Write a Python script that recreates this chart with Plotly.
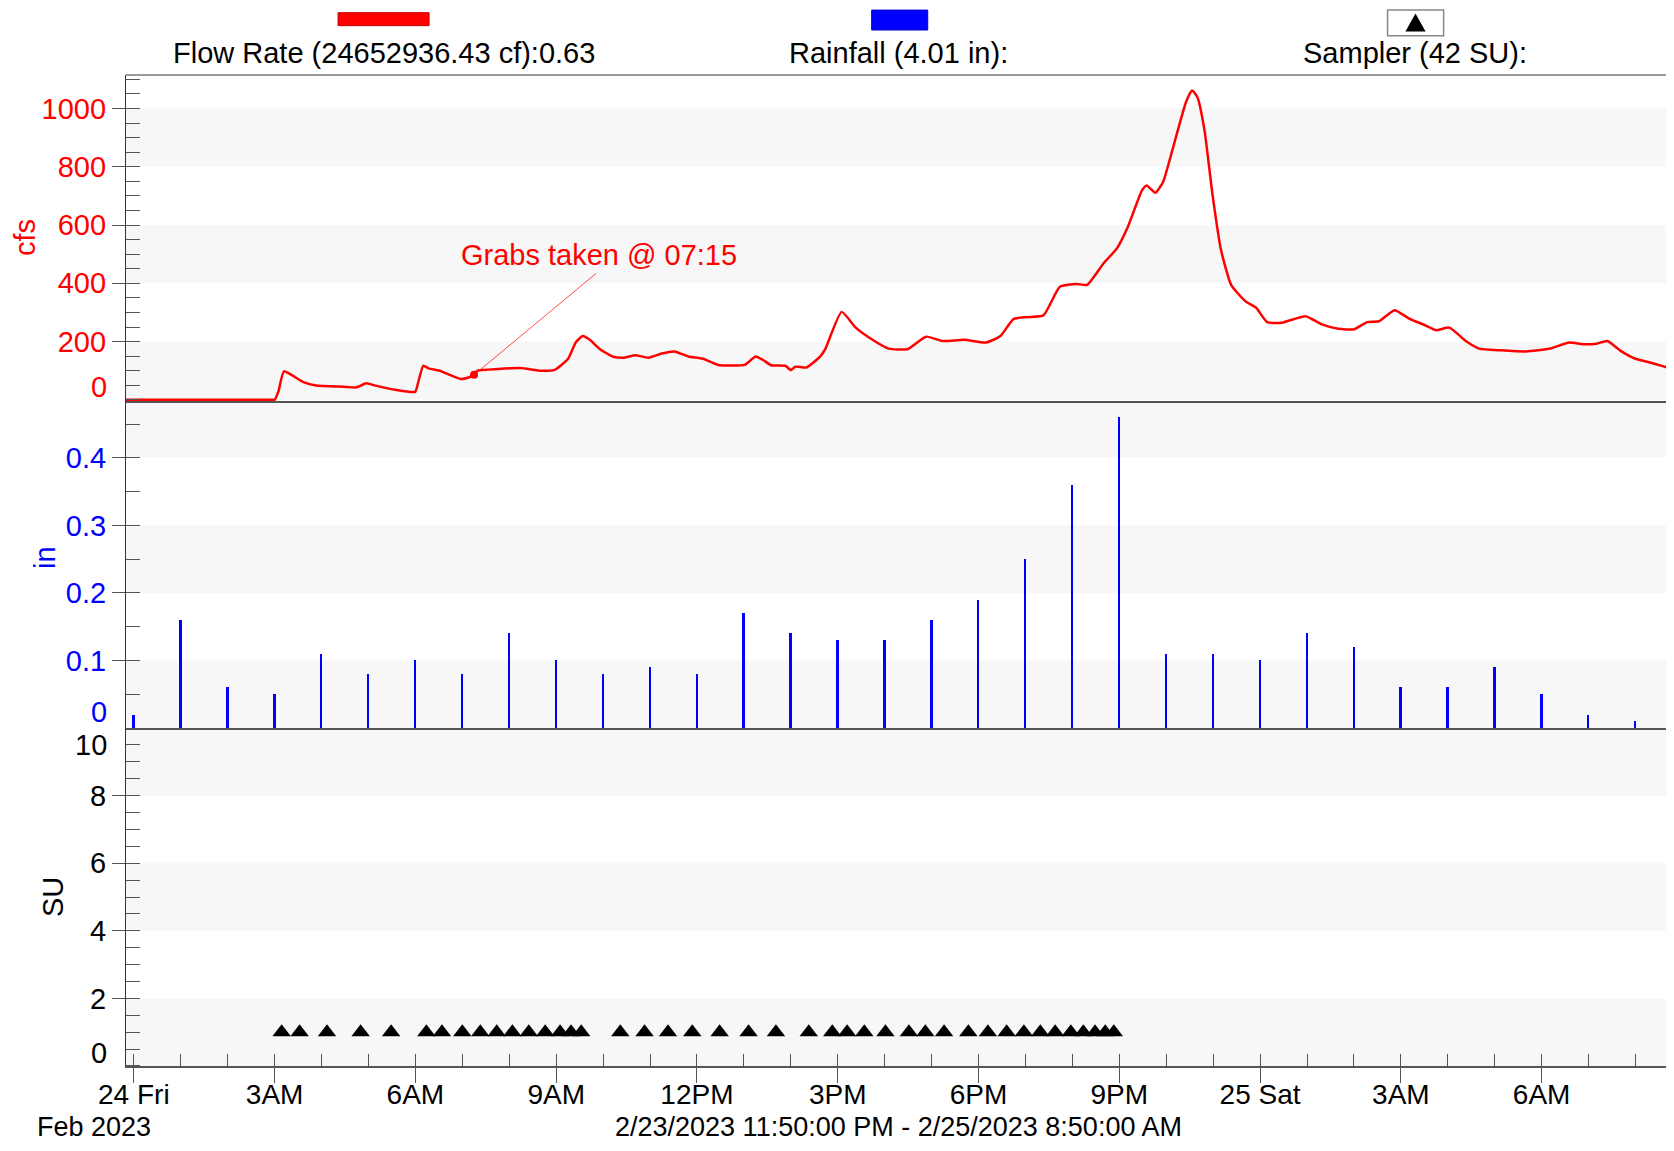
import plotly.graph_objects as go
from plotly.subplots import make_subplots

# ---------------- data ----------------
flow_times = [
    "2023-02-23 23:50", "2023-02-24 01:00", "2023-02-24 02:00", "2023-02-24 02:58",
    "2023-02-24 03:00", "2023-02-24 03:05", "2023-02-24 03:12",
    "2023-02-24 03:36", "2023-02-24 03:53", "2023-02-24 04:28", "2023-02-24 04:45",
    "2023-02-24 04:57", "2023-02-24 05:09", "2023-02-24 05:36", "2023-02-24 05:57",
    "2023-02-24 06:00", "2023-02-24 06:10", "2023-02-24 06:17", "2023-02-24 06:31",
    "2023-02-24 06:58", "2023-02-24 07:08", "2023-02-24 07:15", "2023-02-24 07:19",
    "2023-02-24 07:46", "2023-02-24 08:14", "2023-02-24 08:41", "2023-02-24 08:58",
    "2023-02-24 09:15", "2023-02-24 09:25", "2023-02-24 09:34", "2023-02-24 09:43",
    "2023-02-24 09:56", "2023-02-24 10:13", "2023-02-24 10:27", "2023-02-24 10:41",
    "2023-02-24 10:58", "2023-02-24 11:15", "2023-02-24 11:31", "2023-02-24 11:49",
    "2023-02-24 12:07", "2023-02-24 12:27", "2023-02-24 13:01", "2023-02-24 13:15",
    "2023-02-24 13:25", "2023-02-24 13:35", "2023-02-24 13:53", "2023-02-24 14:00",
    "2023-02-24 14:06", "2023-02-24 14:20", "2023-02-24 14:38", "2023-02-24 14:44",
    "2023-02-24 15:05", "2023-02-24 15:23", "2023-02-24 15:40", "2023-02-24 16:05",
    "2023-02-24 16:29", "2023-02-24 16:53", "2023-02-24 17:14", "2023-02-24 17:42",
    "2023-02-24 18:10", "2023-02-24 18:28", "2023-02-24 18:45", "2023-02-24 19:02",
    "2023-02-24 19:23", "2023-02-24 19:44", "2023-02-24 20:05", "2023-02-24 20:19",
    "2023-02-24 20:40", "2023-02-24 20:57", "2023-02-24 21:11", "2023-02-24 21:29",
    "2023-02-24 21:35", "2023-02-24 21:46", "2023-02-24 21:56", "2023-02-24 22:10",
    "2023-02-24 22:25", "2023-02-24 22:33", "2023-02-24 22:40", "2023-02-24 22:49",
    "2023-02-24 22:59", "2023-02-24 23:10", "2023-02-24 23:23", "2023-02-24 23:41",
    "2023-02-24 23:55", "2023-02-25 00:09", "2023-02-25 00:28", "2023-02-25 00:58",
    "2023-02-25 01:19", "2023-02-25 01:40", "2023-02-25 02:00", "2023-02-25 02:17",
    "2023-02-25 02:32", "2023-02-25 02:52", "2023-02-25 03:10", "2023-02-25 03:31",
    "2023-02-25 03:45", "2023-02-25 04:02", "2023-02-25 04:23", "2023-02-25 04:40",
    "2023-02-25 05:08", "2023-02-25 05:40", "2023-02-25 06:11", "2023-02-25 06:35",
    "2023-02-25 06:53", "2023-02-25 07:10", "2023-02-25 07:24", "2023-02-25 07:41",
    "2023-02-25 07:59", "2023-02-25 08:23", "2023-02-25 08:47", "2023-02-25 08:50",
]
flow_cfs = [
    0, 0, 0, 0,
    0, 30, 98,
    62, 49, 45, 43,
    57, 49, 34, 27,
    28, 117, 108, 100,
    72, 77, 86, 100,
    106, 109, 100, 103,
    140, 197, 219, 206,
    174, 148, 145, 153,
    145, 159, 166, 149,
    142, 120, 120, 149,
    136, 119, 117, 102,
    114, 111, 150, 174,
    302, 248, 214, 176,
    174, 217, 202, 206,
    197, 219, 278, 284,
    290, 388, 398, 395,
    469, 520, 594, 719,
    736, 711, 748, 878,
    1020, 1062, 1038, 924,
    708, 515, 395, 339,
    316, 267, 265, 287,
    259, 244, 242, 267,
    270, 308, 280, 256,
    239, 248, 202, 176,
    170, 166, 176, 197,
    191, 193, 202, 168,
    142, 125, 106, 104,
]

rain_times = [
    "2023-02-24 00:00", "2023-02-24 01:00", "2023-02-24 02:00", "2023-02-24 03:00",
    "2023-02-24 04:00", "2023-02-24 05:00", "2023-02-24 06:00", "2023-02-24 07:00",
    "2023-02-24 08:00", "2023-02-24 09:00", "2023-02-24 10:00", "2023-02-24 11:00",
    "2023-02-24 12:00", "2023-02-24 13:00", "2023-02-24 14:00", "2023-02-24 15:00",
    "2023-02-24 16:00", "2023-02-24 17:00", "2023-02-24 18:00", "2023-02-24 19:00",
    "2023-02-24 20:00", "2023-02-24 21:00", "2023-02-24 22:00", "2023-02-24 23:00",
    "2023-02-25 00:00", "2023-02-25 01:00", "2023-02-25 02:00", "2023-02-25 03:00",
    "2023-02-25 04:00", "2023-02-25 05:00", "2023-02-25 06:00", "2023-02-25 07:00",
    "2023-02-25 08:00",
]
rain_in = [
    0.02, 0.16, 0.06, 0.05, 0.11, 0.08, 0.10, 0.08,
    0.14, 0.10, 0.08, 0.09, 0.08, 0.17, 0.14, 0.13,
    0.13, 0.16, 0.19, 0.25, 0.36, 0.46, 0.11, 0.11,
    0.10, 0.14, 0.12, 0.06, 0.06, 0.09, 0.05, 0.02,
    0.01,
]

sampler_times = [
    "2023-02-24 03:09", "2023-02-24 03:32", "2023-02-24 04:07", "2023-02-24 04:50",
    "2023-02-24 05:29", "2023-02-24 06:14", "2023-02-24 06:34", "2023-02-24 07:00",
    "2023-02-24 07:23", "2023-02-24 07:44", "2023-02-24 08:04", "2023-02-24 08:25",
    "2023-02-24 08:46", "2023-02-24 09:05", "2023-02-24 09:19", "2023-02-24 09:32",
    "2023-02-24 10:22", "2023-02-24 10:53", "2023-02-24 11:23", "2023-02-24 11:54",
    "2023-02-24 12:29", "2023-02-24 13:06", "2023-02-24 13:41", "2023-02-24 14:23",
    "2023-02-24 14:53", "2023-02-24 15:12", "2023-02-24 15:34", "2023-02-24 16:01",
    "2023-02-24 16:31", "2023-02-24 16:52", "2023-02-24 17:16", "2023-02-24 17:47",
    "2023-02-24 18:12", "2023-02-24 18:36", "2023-02-24 18:58", "2023-02-24 19:19",
    "2023-02-24 19:38", "2023-02-24 19:58", "2023-02-24 20:14", "2023-02-24 20:29",
    "2023-02-24 20:42", "2023-02-24 20:53",
]
sampler_su = [
    1, 1, 1, 1, 1, 1, 1, 1, 1, 1, 1, 1, 1, 1, 1, 1, 1, 1, 1, 1, 1,
    1, 1, 1, 1, 1, 1, 1, 1, 1, 1, 1, 1, 1, 1, 1, 1, 1, 1, 1, 1, 1,
]

grab_time = "2023-02-24 07:15"
grab_cfs = 86
grab_label = "Grabs taken @ 07:15"

x_start = "2023-02-23 23:50"
x_end_visible = "2023-02-25 08:39"   # page edge; full record runs to 08:50
x_tick_times = [
    "2023-02-24 00:00", "2023-02-24 03:00", "2023-02-24 06:00", "2023-02-24 09:00",
    "2023-02-24 12:00", "2023-02-24 15:00", "2023-02-24 18:00", "2023-02-24 21:00",
    "2023-02-25 00:00", "2023-02-25 03:00", "2023-02-25 06:00",
]
x_tick_labels = ["24 Fri", "3AM", "6AM", "9AM", "12PM", "3PM", "6PM", "9PM",
                 "25 Sat", "3AM", "6AM"]
flow_ticks = [200, 400, 600, 800, 1000]
rain_ticks = [0.1, 0.2, 0.3, 0.4]
su_ticks = [2, 4, 6, 8]

legend_flow = "Flow Rate (24652936.43 cf):0.63"
legend_rain = "Rainfall (4.01 in):"
legend_sampler = "Sampler (42 SU):"
range_text = "2/23/2023 11:50:00 PM - 2/25/2023 8:50:00 AM"
month_text = "Feb 2023"

# ---------------- figure ----------------
FONT = "Liberation Sans, Arial, sans-serif"
FS = 29
RED = "#ff0000"
BLUE = "#0000ff"
AXC = "#555555"
BAND = "#f7f7f7"

fig = make_subplots(rows=3, cols=1, shared_xaxes=True, vertical_spacing=0,
                    row_heights=[0.329, 0.330, 0.341])

fig.add_trace(go.Scatter(x=flow_times, y=flow_cfs, mode="lines",
                         line=dict(color=RED, width=2.5, shape="spline", smoothing=0.5),
                         hoverinfo="skip"),
              row=1, col=1)
fig.add_trace(go.Scatter(x=[grab_time], y=[grab_cfs], mode="markers",
                         marker=dict(color=RED, size=8)), row=1, col=1)
fig.add_trace(go.Bar(x=rain_times, y=rain_in, width=140000,
                     marker=dict(color=BLUE, line=dict(width=0))), row=2, col=1)
fig.add_trace(go.Scatter(x=sampler_times, y=sampler_su, mode="markers",
                         marker=dict(symbol="triangle-up", size=16, color="black",
                                     line=dict(width=0))), row=3, col=1)

# background bands
for y0, y1 in [(0, 200), (400, 600), (800, 1000)]:
    fig.add_hrect(y0=y0, y1=y1, fillcolor=BAND, line_width=0, layer="below", row=1, col=1)
for y0, y1 in [(0, 0.1), (0.2, 0.3), (0.4, 0.484)]:
    fig.add_hrect(y0=y0, y1=y1, fillcolor=BAND, line_width=0, layer="below", row=2, col=1)
for y0, y1 in [(0, 2), (4, 6), (8, 10)]:
    fig.add_hrect(y0=y0, y1=y1, fillcolor=BAND, line_width=0, layer="below", row=3, col=1)

# x axes
fig.update_xaxes(type="date", range=[x_start, x_end_visible], showgrid=False, zeroline=False,
                 showline=True, linecolor=AXC, linewidth=1.5)
fig.update_xaxes(ticks="", showticklabels=False, layer="below traces", row=1, col=1)
fig.update_xaxes(ticks="", showticklabels=False, layer="below traces", row=2, col=1)
fig.update_xaxes(tickmode="array", tickvals=x_tick_times, ticktext=x_tick_labels,
                 ticks="outside", ticklen=15, tickwidth=1, tickcolor=AXC,
                 showticklabels=True, ticklabelstandoff=-12,
                 tickfont=dict(family=FONT, size=28, color="black"),
                 minor=dict(ticks="inside", ticklen=12, tickcolor=AXC,
                            tick0="2023-02-24 00:00", dtick=3600000, showgrid=False),
                 row=3, col=1)

# y axes
common_y = dict(showgrid=False, zeroline=False, showline=True, linecolor="#333333",
                linewidth=1.2, ticks="outside", ticklen=13, tickcolor=AXC,
                tickmode="array", ticklabelstandoff=0)
fig.update_yaxes(range=[-4, 1115], tickvals=flow_ticks,
                 tickfont=dict(family=FONT, size=FS, color=RED),
                 minor=dict(ticks="inside", ticklen=14, tickcolor=AXC, tick0=0, dtick=50),
                 row=1, col=1, **common_y)
fig.update_yaxes(range=[0, 0.484], tickvals=rain_ticks,
                 tickfont=dict(family=FONT, size=FS, color=BLUE),
                 minor=dict(ticks="inside", ticklen=14, tickcolor=AXC, tick0=0, dtick=0.05),
                 row=2, col=1, **common_y)
fig.update_yaxes(range=[0, 10], tickvals=su_ticks,
                 tickfont=dict(family=FONT, size=FS, color="black"),
                 minor=dict(ticks="inside", ticklen=14, tickcolor=AXC, tick0=0, dtick=0.5),
                 row=3, col=1, **common_y)

ann = []
# edge tick labels (drawn nudged inside the panels, as in the original)
for yref, yv, shift, col in [("y", 0, 13, RED), ("y2", 0, 16, BLUE),
                             ("y3", 10, -17, "black"), ("y3", 0, 13, "black")]:
    ann.append(dict(xref="paper", x=0, yref=yref, y=yv, xanchor="right", yanchor="middle",
                    xshift=-17, yshift=shift, text=str(yv), showarrow=False,
                    font=dict(family=FONT, size=FS, color=col)))
# axis titles
for xp, yp, txt, col in [(-0.0656, 0.8365, "cfs", RED), (-0.0526, 0.5136, "in", BLUE),
                         (-0.0474, 0.1705, "SU", "black")]:
    ann.append(dict(xref="paper", yref="paper", x=xp, y=yp, text=txt, textangle=-90,
                    xanchor="center", yanchor="middle", showarrow=False,
                    font=dict(family=FONT, size=FS, color=col)))
# legend texts
for xc, txt in [(0.1675, legend_flow), (0.5019, legend_rain), (0.8368, legend_sampler)]:
    ann.append(dict(xref="paper", yref="paper", x=xc, y=1.0222, text=txt, showarrow=False,
                    xanchor="center", yanchor="middle",
                    font=dict(family=FONT, size=FS, color="black")))
# bottom texts
for xp, anchor, txt in [(-0.0591, "left", month_text), (0.5019, "center", range_text)]:
    ann.append(dict(xref="paper", yref="paper", x=xp, y=-0.0616, text=txt,
                    xanchor=anchor, yanchor="middle", showarrow=False,
                    font=dict(family=FONT, size=27, color="black")))
# grab annotation
ann.append(dict(xref="x", yref="y", x=grab_time, y=grab_cfs, text=" ", showarrow=True,
                arrowhead=0, arrowwidth=1, arrowcolor="rgba(255,0,0,0.7)",
                ax=124, ay=-103, font=dict(size=2)))
ann.append(dict(xref="x", yref="y", x=grab_time, y=grab_cfs, text=grab_label,
                showarrow=False, xshift=125, yshift=120, xanchor="center", yanchor="middle",
                font=dict(family=FONT, size=FS, color=RED)))

shapes = [
    # top border of upper panel
    dict(type="line", xref="paper", yref="paper", x0=0, x1=1, y0=1, y1=1,
         line=dict(color="#999999", width=2)),
    # legend swatches
    dict(type="rect", xref="paper", yref="paper", x0=0.1377, x1=0.1968, y0=1.0498, y1=1.0629,
         fillcolor=RED, line=dict(color="#cc0000", width=1)),
    dict(type="rect", xref="paper", yref="paper", x0=0.4842, x1=0.5206, y0=1.0454, y1=1.0655,
         fillcolor=BLUE, line=dict(color="#0000cc", width=1)),
    dict(type="rect", xref="paper", yref="paper", x0=0.8192, x1=0.8556, y0=1.0397, y1=1.0655,
         fillcolor="white", line=dict(color="#888888", width=1.5)),
    dict(type="path", xref="paper", yref="paper",
         path="M 0.8308 1.0440 L 0.8439 1.0440 L 0.8373 1.0620 Z",
         fillcolor="black", line=dict(color="black", width=0)),
]

# page has an 8px body margin, so the figure is sized to fit inside it
fig.update_layout(
    width=1658, height=1135,
    margin=dict(l=118, r=0, t=67, b=77),
    plot_bgcolor="white", paper_bgcolor="white",
    showlegend=False, bargap=0,
    font=dict(family=FONT, size=FS, color="black"),
    annotations=ann,
    shapes=list(fig.layout.shapes) + shapes,
)

fig.write_html("out.html")
